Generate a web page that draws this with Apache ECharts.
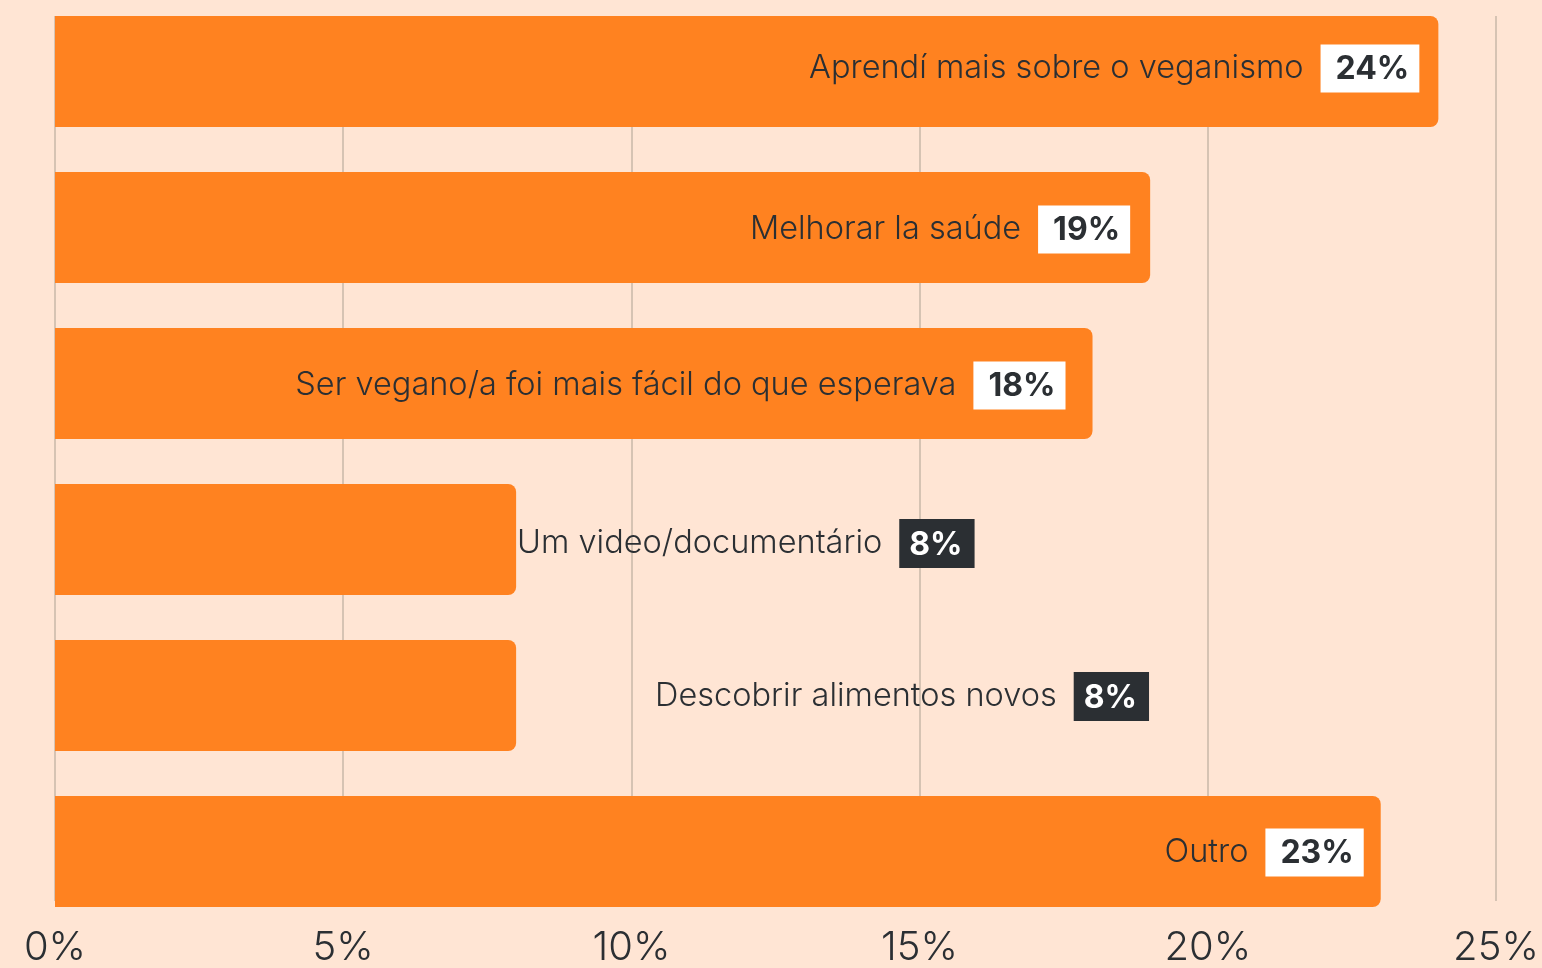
<!DOCTYPE html>
<html>
<head>
<meta charset="utf-8">
<script src="https://cdn.jsdelivr.net/npm/echarts@6/dist/echarts.min.js"></script>
<style>
  html, body { margin: 0; padding: 0; background: #FFE5D4; }
  #chart { width: 1542px; height: 968px; }
</style>
</head>
<body>
<div id="chart"></div>
<script>
// dados do gráfico
const categorias = [
  'Aprendí mais sobre o veganismo',
  'Melhorar la saúde',
  'Ser vegano/a foi mais fácil do que esperava',
  'Um video/documentário',
  'Descobrir alimentos novos',
  'Outro'
];
const valores = [24, 19, 18, 8, 8, 23];
const ticksX = [0, 5, 10, 15, 20, 25];

const laranja = '#FF8220';
const escuro = '#2B2F33';
const fonte = 'Inter, "Noto Sans", sans-serif';

// rótulos dentro da barra (caixa branca) ou fora (caixa escura)
const estiloRotulo = [
  { position: 'insideRight', distance: 19, box: 'w', dy: -3 },
  { position: 'insideRight', distance: 20, box: 'w', dy: 2 },
  { position: 'insideRight', distance: 27, box: 'w', dy: 2 },
  { position: 'right', distance: 1, box: 'd', dy: 4 },
  { position: 'right', distance: 139, box: 'd', dy: 1 },
  { position: 'insideRight', distance: 17, box: 'w', dy: 1 }
];

const chart = echarts.init(document.getElementById('chart'));

const dados = valores.map((v, i) => ({
  value: v,
  label: {
    show: true,
    position: estiloRotulo[i].position,
    distance: estiloRotulo[i].distance,
    offset: [0, estiloRotulo[i].dy],
    formatter: '{n|' + categorias[i] + '}{' + estiloRotulo[i].box + '|' + v + '%}'
  }
}));

const option = {
  backgroundColor: '#FFE5D4',
  animation: false,
  grid: [
    // grade com as linhas verticais e os rótulos do eixo
    { left: 55, right: 46, top: 16, bottom: 61 },
    // grade das barras: centros das categorias nas bordas
    { left: 55, right: 46, top: 71.5, bottom: 116.5 }
  ],
  xAxis: [
    {
      gridIndex: 0, type: 'value', min: 0, max: 25, interval: 5,
      axisLine: { show: false }, axisTick: { show: false },
      splitLine: { show: true, lineStyle: { color: '#D6C3B3', width: 2 } },
      axisLabel: {
        formatter: '{value}%', fontFamily: fonte, fontSize: 40, fontWeight: 300,
        color: escuro, margin: 27
      }
    },
    {
      gridIndex: 1, type: 'value', min: 0, max: 25, show: false,
      splitLine: { show: false }
    }
  ],
  yAxis: [
    { gridIndex: 0, type: 'value', min: 0, max: 1, show: false, splitLine: { show: false } },
    {
      gridIndex: 1, type: 'category', data: categorias, inverse: true, show: false,
      boundaryGap: false
    }
  ],
  series: [{
    type: 'bar',
    xAxisIndex: 1,
    yAxisIndex: 1,
    data: dados,
    barWidth: 111,
    clip: false,
    itemStyle: { color: laranja, borderRadius: [0, 8, 8, 0] },
    label: {
      rich: {
        n: { fontFamily: fonte, fontSize: 32.5, fontWeight: 300, color: escuro, padding: [0, 17, 0, 0] },
        w: {
          fontFamily: fonte, fontSize: 32, fontWeight: 'bold', color: escuro,
          backgroundColor: '#FFFFFF', padding: [9, 10, 7, 15]
        },
        d: {
          fontFamily: fonte, fontSize: 32, fontWeight: 'bold', color: '#FFFFFF',
          backgroundColor: escuro, padding: [10, 12, 7, 10]
        }
      }
    }
  }]
};

chart.setOption(option);
</script>
</body>
</html>
